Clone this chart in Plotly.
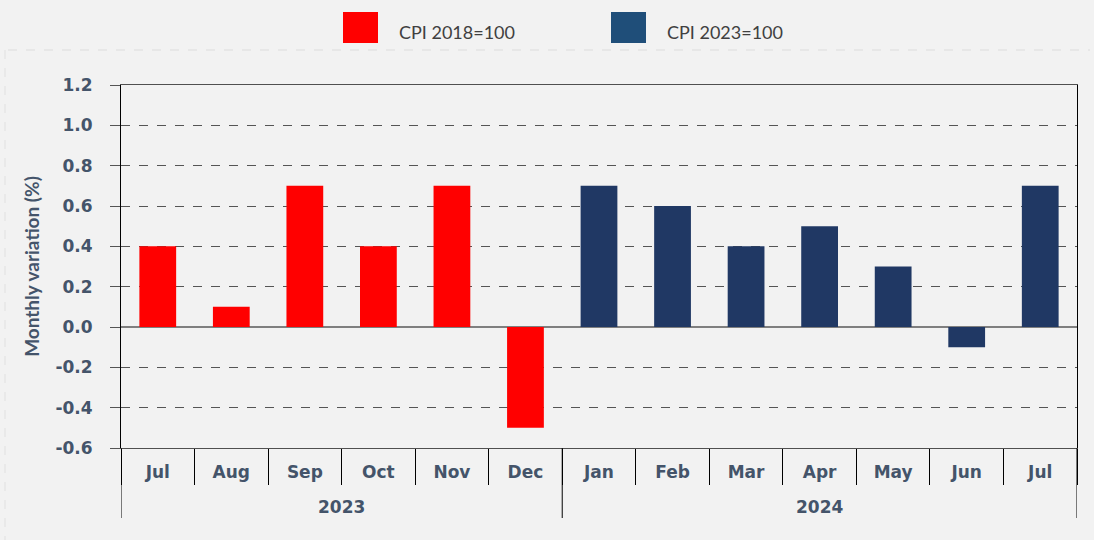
import plotly.graph_objects as go

years = ["2023", "2024"]
months_2023 = ["Jul", "Aug", "Sep", "Oct", "Nov", "Dec"]
values_2023 = [0.4, 0.1, 0.7, 0.4, 0.7, -0.5]
months_2024 = ["Jan", "Feb", "Mar", "Apr", "May", "Jun", "Jul"]
values_2024 = [0.7, 0.6, 0.4, 0.5, 0.3, -0.1, 0.7]
series_names = ["CPI 2018=100", "CPI 2023=100"]
y_ticks = [-0.6, -0.4, -0.2, 0.0, 0.2, 0.4, 0.6, 0.8, 1.0, 1.2]

RED = "#ff0000"
NAVY = "#203864"
NAVY_LEG = "#1f4e79"
TXT = "#44546a"
BG = "#f2f2f2"

W, H = 1094, 540
L, R, T, B = 121, 17, 85, 92
PW, PH = W - L - R, H - T - B

all_months = months_2023 + months_2024
x_2023 = list(range(len(months_2023)))
x_2024 = list(range(len(months_2023), len(all_months)))
n = len(all_months)

fig = go.Figure()
fig.add_trace(go.Bar(
    x=x_2023, y=values_2023, name=series_names[0],
    marker=dict(color=RED, line=dict(width=0)), width=0.5, showlegend=False))
fig.add_trace(go.Bar(
    x=x_2024, y=values_2024, name=series_names[1],
    marker=dict(color=NAVY, line=dict(width=0)), width=0.5, showlegend=False))

boundaries = [i - 0.5 for i in range(n + 1)]

fig.update_layout(
    width=W, height=H,
    paper_bgcolor=BG, plot_bgcolor=BG,
    margin=dict(l=L, r=R, t=T, b=B),
    barmode="overlay",
    font=dict(family="DejaVu Sans", color=TXT),
    xaxis=dict(
        range=[-0.5, n - 0.5],
        tickvals=list(range(n)), ticktext=all_months,
        ticks="", ticklabelstandoff=9,
        minor=dict(tickvals=boundaries, ticks="outside", ticklen=36,
                   tickcolor="#000000", tickwidth=1),
        showline=True, linecolor="#505050", linewidth=1, mirror=True,
        tickfont=dict(family="DejaVu Sans", size=17, color=TXT, weight="bold"),
        showgrid=False, zeroline=False,
    ),
    yaxis=dict(
        range=[-0.6, 1.2], tickvals=y_ticks,
        ticktext=[f"{v:.1f}" for v in y_ticks],
        showline=True, linecolor="#000000", linewidth=1, mirror=True,
        ticks="outside", ticklen=10, tickcolor="#555555",
        showgrid=True, gridcolor="#555555", griddash="dash", gridwidth=1,
        zeroline=True, zerolinecolor="#7f7f7f", zerolinewidth=1.5,
        tickfont=dict(family="DejaVu Sans", size=17, color=TXT, weight="bold"),
        ticklabelstandoff=14,
        title=dict(text="Monthly variation (%)", standoff=10,
                   font=dict(family="Lato", size=19, color=TXT, weight="bold")),
    ),
)

# Year group dividers and labels
year_edges = [-0.5, len(months_2023) - 0.5, n - 0.5]
for xe in year_edges:
    fig.add_shape(type="line", xref="x", yref="paper", x0=xe, x1=xe,
                  y0=0, y1=-70 / PH, line=dict(color="#000000", width=1))
year_centers = [(len(months_2023) - 1) / 2, len(months_2023) + (len(months_2024) - 1) / 2]
for yr, xc in zip(years, year_centers):
    fig.add_annotation(xref="x", yref="paper", x=xc, y=-(507 - (T + PH)) / PH,
                       text=yr, showarrow=False, xanchor="center", yanchor="middle",
                       font=dict(family="DejaVu Sans", size=17, color=TXT, weight="bold"))

# faint dashed frame lines
fig.add_shape(type="line", xref="paper", yref="paper",
              x0=(8 - L) / PW, x1=(1090 - L) / PW,
              y0=(T + PH - 50) / PH, y1=(T + PH - 50) / PH,
              line=dict(color="#dcdcdc", width=1, dash="dash"))
fig.add_shape(type="line", xref="paper", yref="paper",
              x0=(5 - L) / PW, x1=(5 - L) / PW,
              y0=(T + PH - 50) / PH, y1=(T + PH - 540) / PH,
              line=dict(color="#e0e0e0", width=1, dash="dash"))

# Legend (manual swatches)
leg = [(series_names[0], RED, 343), (series_names[1], NAVY_LEG, 611)]
for name, col, x0 in leg:
    fig.add_shape(type="rect", xref="paper", yref="paper",
                  x0=(x0 - L) / PW, x1=(x0 + 35 - L) / PW,
                  y0=(T + PH - 43) / PH, y1=(T + PH - 12) / PH,
                  fillcolor=col, line=dict(width=0))
    fig.add_annotation(xref="paper", yref="paper", x=(x0 + 54 - L) / PW,
                       y=(T + PH - 32) / PH, text=name, showarrow=False,
                       xanchor="left", yanchor="middle",
                       font=dict(family="Lato", size=18, color="#404040"))

fig.write_html("out.html", config={"displayModeBar": False},
               post_script="document.body.style.margin='0';document.body.style.background='#f2f2f2';")
